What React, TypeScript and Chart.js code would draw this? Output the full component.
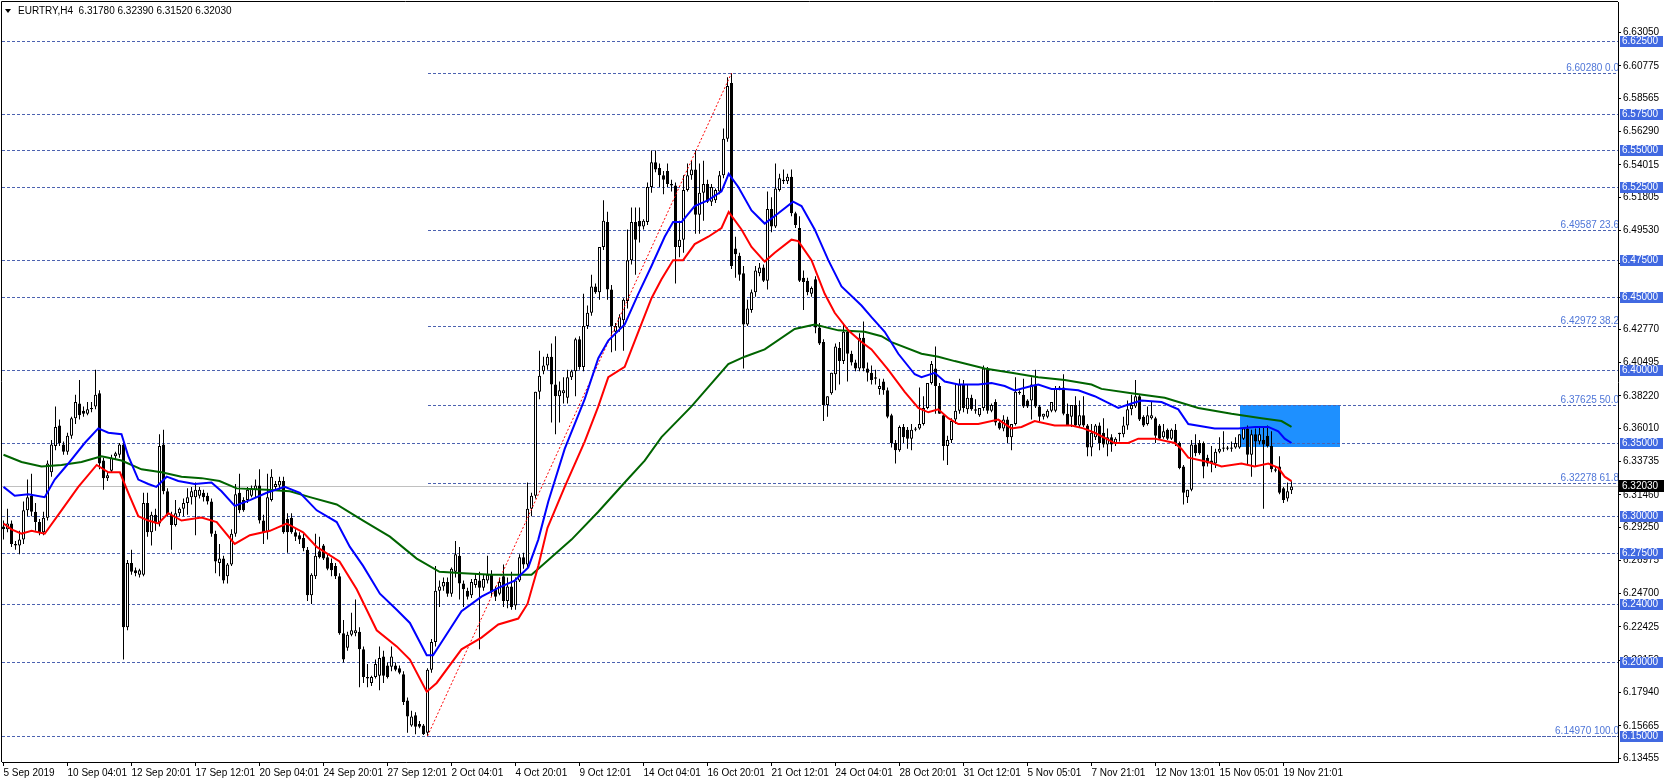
import React, { useEffect, useRef } from "react";
import { Chart, registerables } from "chart.js";

Chart.register(...registerables);

// ---------- DATA ----------
const symbolTitle = "EURTRY,H4  6.31780 6.32390 6.31520 6.32030";

const opens = [
  6.293,6.291,6.295,6.281,6.280,6.284,6.304,6.314,6.303,6.296,
  6.289,6.299,6.330,6.348,6.362,6.349,6.344,6.355,6.367,6.377,
  6.372,6.370,6.373,6.375,6.384,6.338,6.326,6.331,6.341,6.342,
  6.349,6.224,6.268,6.263,6.260,6.260,6.309,6.289,6.301,6.295,
  6.349,6.317,6.301,6.294,6.302,6.305,6.309,6.313,6.313,6.314,
  6.316,6.314,6.310,6.288,6.268,6.271,6.259,6.267,6.288,6.316,
  6.311,6.311,6.314,6.318,6.321,6.297,6.289,6.311,6.320,6.321,
  6.324,6.298,6.299,6.289,6.287,6.285,6.277,6.246,6.259,6.276,
  6.280,6.272,6.268,6.266,6.259,6.220,6.210,6.219,6.220,6.221,
  6.209,6.189,6.186,6.190,6.191,6.204,6.198,6.197,6.198,6.196,
  6.192,6.174,6.157,6.164,6.158,6.157,6.152,6.195,6.214,6.249,
  6.252,6.255,6.247,6.262,6.273,6.254,6.249,6.246,6.253,6.256,
  6.251,6.256,6.260,6.250,6.247,6.259,6.242,6.252,6.239,6.256,
  6.272,6.267,6.305,6.314,6.385,6.399,6.403,6.409,6.390,6.382,
  6.384,6.381,6.395,6.399,6.421,6.402,6.430,6.439,6.457,6.453,
  6.484,6.501,6.455,6.426,6.429,6.434,6.447,6.475,6.501,6.502,
  6.498,6.501,6.525,6.542,6.538,6.533,6.536,6.527,6.526,6.484,
  6.489,6.523,6.533,6.537,6.506,6.521,6.527,6.515,6.516,6.522,
  6.533,6.558,6.596,6.483,6.478,6.466,6.431,6.441,6.453,6.466,
  6.470,6.461,6.510,6.498,6.523,6.530,6.529,6.532,6.507,6.497,
  6.463,6.461,6.452,6.462,6.429,6.419,6.376,6.384,6.397,6.415,
  6.406,6.426,6.411,6.405,6.401,6.422,6.401,6.398,6.395,6.387,
  6.392,6.386,6.369,6.350,6.345,6.361,6.359,6.353,6.359,6.360,
  6.363,6.374,6.391,6.401,6.389,6.369,6.348,6.352,6.366,6.372,
  6.390,6.373,6.381,6.373,6.369,6.374,6.401,6.372,6.378,6.364,
  6.360,6.366,6.354,6.363,6.384,6.383,6.379,6.379,6.390,6.375,
  6.368,6.368,6.372,6.372,6.387,6.388,6.370,6.368,6.376,6.362,
  6.369,6.362,6.347,6.354,6.362,6.357,6.349,6.354,6.350,6.356,
  6.356,6.362,6.373,6.375,6.382,6.368,6.363,6.367,6.367,6.362,
  6.354,6.359,6.353,6.359,6.350,6.334,6.313,6.318,6.349,6.350,
  6.350,6.340,6.338,6.336,6.344,6.346,6.346,6.346,6.347,6.347,
  6.353,6.360,6.342,6.356,6.351,6.352,6.355,6.348,6.332,6.334,
  6.319,6.312,6.3178,
];

const highs = [
  6.297,6.305,6.297,6.283,6.290,6.310,6.325,6.329,6.309,6.298,
  6.303,6.338,6.352,6.375,6.366,6.351,6.357,6.368,6.383,6.393,
  6.375,6.378,6.378,6.400,6.386,6.340,6.330,6.342,6.344,6.350,
  6.352,6.270,6.277,6.265,6.264,6.316,6.316,6.303,6.305,6.356,
  6.359,6.319,6.303,6.311,6.306,6.312,6.319,6.320,6.323,6.320,
  6.318,6.316,6.312,6.290,6.281,6.273,6.268,6.291,6.322,6.329,
  6.313,6.320,6.321,6.325,6.332,6.301,6.329,6.332,6.324,6.327,
  6.327,6.302,6.302,6.291,6.289,6.288,6.279,6.261,6.288,6.286,
  6.281,6.274,6.271,6.268,6.261,6.229,6.221,6.234,6.243,6.224,
  6.211,6.199,6.191,6.202,6.211,6.208,6.200,6.211,6.200,6.198,
  6.194,6.176,6.167,6.166,6.160,6.158,6.196,6.216,6.266,6.256,
  6.258,6.258,6.265,6.283,6.279,6.256,6.251,6.257,6.261,6.262,
  6.260,6.273,6.263,6.252,6.258,6.267,6.258,6.262,6.258,6.274,
  6.275,6.323,6.316,6.385,6.413,6.409,6.411,6.418,6.423,6.392,
  6.395,6.400,6.400,6.422,6.423,6.452,6.444,6.465,6.459,6.484,
  6.516,6.508,6.458,6.432,6.438,6.449,6.496,6.511,6.511,6.511,
  6.503,6.528,6.550,6.550,6.541,6.536,6.541,6.530,6.528,6.502,
  6.533,6.541,6.543,6.550,6.541,6.543,6.530,6.527,6.524,6.536,
  6.565,6.600,6.6028,6.491,6.480,6.471,6.448,6.455,6.471,6.473,
  6.472,6.522,6.518,6.541,6.534,6.537,6.534,6.537,6.508,6.505,
  6.468,6.463,6.457,6.464,6.432,6.421,6.382,6.398,6.418,6.419,
  6.432,6.429,6.413,6.407,6.425,6.433,6.405,6.403,6.400,6.394,
  6.394,6.388,6.370,6.352,6.362,6.363,6.361,6.363,6.361,6.388,
  6.382,6.391,6.406,6.416,6.391,6.370,6.355,6.367,6.391,6.394,
  6.393,6.390,6.383,6.380,6.374,6.403,6.402,6.377,6.380,6.365,
  6.369,6.368,6.363,6.395,6.386,6.394,6.380,6.395,6.400,6.376,
  6.370,6.373,6.378,6.389,6.389,6.397,6.377,6.376,6.382,6.379,
  6.382,6.363,6.363,6.363,6.364,6.367,6.360,6.356,6.354,6.357,
  6.368,6.379,6.383,6.393,6.383,6.369,6.375,6.378,6.368,6.363,
  6.363,6.360,6.360,6.363,6.351,6.335,6.318,6.352,6.356,6.352,
  6.351,6.342,6.348,6.346,6.354,6.358,6.348,6.351,6.354,6.356,
  6.361,6.362,6.359,6.360,6.361,6.361,6.362,6.358,6.334,6.341,
  6.320,6.323,6.3239,
];

const lows = [
  6.284,6.289,6.279,6.277,6.274,6.281,6.300,6.300,6.290,6.287,
  6.287,6.297,6.327,6.345,6.348,6.342,6.342,6.353,6.363,6.366,
  6.368,6.369,6.371,6.373,6.332,6.318,6.324,6.330,6.339,6.340,
  6.202,6.222,6.260,6.259,6.258,6.259,6.286,6.280,6.290,6.293,
  6.315,6.300,6.277,6.293,6.300,6.300,6.301,6.308,6.287,6.312,
  6.310,6.308,6.286,6.261,6.259,6.254,6.254,6.266,6.286,6.302,
  6.303,6.309,6.313,6.313,6.295,6.281,6.284,6.310,6.318,6.318,
  6.288,6.275,6.288,6.283,6.281,6.276,6.242,6.240,6.257,6.271,
  6.270,6.263,6.259,6.257,6.219,6.200,6.208,6.218,6.218,6.183,
  6.186,6.183,6.184,6.189,6.181,6.186,6.189,6.194,6.194,6.192,
  6.171,6.152,6.156,6.151,6.155,6.1505,6.1497,6.193,6.211,6.238,
  6.249,6.245,6.245,6.258,6.243,6.238,6.243,6.244,6.251,6.209,
  6.249,6.254,6.245,6.242,6.246,6.238,6.237,6.236,6.236,6.255,
  6.264,6.265,6.300,6.312,6.380,6.397,6.400,6.364,6.356,6.364,
  6.377,6.377,6.393,6.382,6.400,6.399,6.428,6.437,6.452,6.448,
  6.482,6.448,6.412,6.413,6.426,6.413,6.442,6.472,6.465,6.487,
  6.496,6.499,6.521,6.535,6.525,6.520,6.525,6.522,6.459,6.477,
  6.480,6.522,6.530,6.493,6.493,6.502,6.514,6.512,6.514,6.520,
  6.531,6.556,6.469,6.463,6.461,6.401,6.430,6.439,6.450,6.464,
  6.460,6.455,6.494,6.497,6.522,6.527,6.527,6.505,6.497,6.460,
  6.441,6.451,6.450,6.425,6.417,6.365,6.368,6.383,6.386,6.390,
  6.404,6.392,6.403,6.399,6.399,6.399,6.392,6.390,6.390,6.383,
  6.383,6.367,6.347,6.336,6.344,6.350,6.346,6.345,6.358,6.359,
  6.362,6.373,6.390,6.370,6.370,6.338,6.335,6.350,6.363,6.370,
  6.371,6.370,6.372,6.370,6.368,6.372,6.370,6.371,6.362,6.359,
  6.358,6.350,6.345,6.362,6.383,6.374,6.374,6.366,6.374,6.365,
  6.366,6.367,6.371,6.371,6.386,6.369,6.362,6.361,6.361,6.361,
  6.361,6.341,6.341,6.352,6.345,6.347,6.341,6.344,6.348,6.351,
  6.354,6.359,6.369,6.374,6.365,6.361,6.362,6.366,6.350,6.352,
  6.353,6.352,6.352,6.348,6.332,6.308,6.309,6.317,6.341,6.342,
  6.326,6.334,6.330,6.333,6.343,6.344,6.345,6.344,6.346,6.346,
  6.352,6.335,6.327,6.334,6.349,6.305,6.347,6.330,6.330,6.315,
  6.309,6.310,6.3152,
];

const closes = [
  6.291,6.295,6.281,6.280,6.284,6.304,6.313,6.303,6.296,6.289,
  6.299,6.336,6.349,6.361,6.350,6.344,6.355,6.367,6.378,6.369,
  6.370,6.373,6.374,6.383,6.336,6.326,6.328,6.340,6.343,6.349,
  6.224,6.268,6.262,6.261,6.263,6.309,6.289,6.301,6.295,6.348,
  6.317,6.301,6.294,6.302,6.305,6.309,6.313,6.317,6.318,6.318,
  6.313,6.310,6.288,6.269,6.271,6.256,6.267,6.288,6.315,6.304,
  6.304,6.318,6.319,6.321,6.297,6.289,6.313,6.327,6.322,6.324,
  6.289,6.289,6.289,6.286,6.284,6.278,6.246,6.260,6.273,6.272,
  6.271,6.264,6.263,6.259,6.220,6.202,6.219,6.222,6.222,6.209,
  6.190,6.190,6.190,6.199,6.203,6.191,6.190,6.204,6.195,6.193,
  6.173,6.163,6.163,6.156,6.156,6.151,6.195,6.214,6.249,6.252,
  6.255,6.247,6.264,6.274,6.254,6.250,6.245,6.255,6.257,6.251,
  6.257,6.260,6.248,6.245,6.255,6.242,6.252,6.238,6.256,6.272,
  6.267,6.305,6.314,6.385,6.396,6.403,6.409,6.390,6.382,6.386,
  6.386,6.395,6.399,6.421,6.402,6.430,6.439,6.457,6.453,6.484,
  6.502,6.455,6.430,6.430,6.436,6.448,6.475,6.501,6.489,6.498,
  6.502,6.525,6.542,6.537,6.533,6.530,6.527,6.526,6.484,6.489,
  6.523,6.533,6.537,6.506,6.521,6.527,6.515,6.525,6.523,6.533,
  6.558,6.594,6.471,6.479,6.465,6.431,6.442,6.453,6.468,6.470,
  6.461,6.510,6.498,6.524,6.531,6.529,6.532,6.507,6.499,6.461,
  6.460,6.453,6.456,6.429,6.418,6.376,6.382,6.398,6.416,6.406,
  6.426,6.411,6.405,6.401,6.422,6.401,6.398,6.393,6.394,6.389,
  6.386,6.368,6.350,6.345,6.361,6.354,6.353,6.359,6.360,6.363,
  6.374,6.391,6.404,6.389,6.370,6.348,6.352,6.365,6.372,6.390,
  6.374,6.381,6.373,6.372,6.374,6.401,6.372,6.376,6.364,6.360,
  6.366,6.354,6.363,6.385,6.385,6.375,6.375,6.390,6.375,6.368,
  6.370,6.372,6.378,6.387,6.388,6.370,6.362,6.376,6.362,6.369,
  6.362,6.347,6.357,6.362,6.350,6.349,6.354,6.349,6.353,6.357,
  6.362,6.373,6.376,6.382,6.366,6.362,6.369,6.369,6.355,6.353,
  6.358,6.353,6.359,6.350,6.333,6.316,6.318,6.349,6.343,6.343,
  6.334,6.336,6.336,6.344,6.346,6.347,6.347,6.347,6.350,6.356,
  6.360,6.342,6.356,6.351,6.356,6.349,6.348,6.332,6.331,6.316,
  6.311,6.317,6.3203,
];

// moving averages: [bar position, value] samples
const redMa = [
  [0,6.295],[2,6.291],[4.5,6.288],[7,6.290],[10.3,6.288],[14.5,6.304],[18.7,6.320],[23.3,6.335],
  [26.2,6.330],[29.1,6.330],[31.2,6.316],[33.7,6.300],[36.2,6.297],[38.7,6.295],[41.2,6.302],
  [44.5,6.297],[49.5,6.299],[53.3,6.296],[57.8,6.281],[61.6,6.287],[66.6,6.290],[70.8,6.295],
  [74.9,6.289],[78.3,6.279],[84,6.269],[88.3,6.250],[93.3,6.222],[98.3,6.211],[101.6,6.202],
  [105.8,6.180],[108.3,6.186],[114.5,6.209],[119.5,6.217],[123.7,6.226],[128.7,6.230],[131,6.240],
  [133.7,6.266],[136,6.292],[140.3,6.320],[145.3,6.351],[148.7,6.375],[151.2,6.395],[155.3,6.402],
  [158.7,6.426],[162,6.449],[164.5,6.462],[167.4,6.475],[169.9,6.475],[172.8,6.486],[176.2,6.491],
  [179.5,6.497],[181.3,6.508],[184.5,6.496],[187,6.484],[190.3,6.474],[192.8,6.480],[197,6.489],
  [198.7,6.488],[202,6.475],[205.3,6.452],[207.8,6.439],[211.2,6.427],[214.5,6.419],[217,6.414],
  [221.2,6.400],[225.3,6.385],[228.7,6.374],[231.2,6.371],[233.7,6.373],[236.2,6.367],[238.7,6.363],
  [243.7,6.363],[248.7,6.366],[252,6.360],[254.5,6.361],[257.8,6.365],[262.8,6.362],[267,6.362],
  [270,6.360],[272.8,6.357],[277.8,6.350],[281.2,6.350],[283.7,6.353],[287.8,6.353],[292.8,6.350],
  [294.5,6.346],[296.2,6.340],[301.2,6.337],[304.5,6.334],[309.5,6.336],[312.8,6.334],[316.2,6.336],
  [318.7,6.333],[320.3,6.327],[322,6.324],
];
const blueMa = [
  [0,6.320],[2.8,6.314],[6.2,6.315],[10.3,6.313],[12.8,6.325],[16.2,6.336],[20.3,6.350],[23.7,6.360],
  [26.2,6.357],[29.5,6.356],[31.2,6.341],[33.7,6.325],[36.2,6.322],[38.2,6.320],[40.8,6.327],
  [43.7,6.324],[47.8,6.322],[52,6.323],[54.5,6.317],[57.8,6.307],[61.6,6.311],[65.8,6.316],
  [70.3,6.320],[74.1,6.316],[78.3,6.304],[83.3,6.296],[86.6,6.279],[89.9,6.266],[94.1,6.247],
  [98.3,6.236],[101.6,6.227],[105.8,6.205],[107.4,6.205],[109.3,6.213],[114.5,6.235],[119.5,6.245],
  [123.7,6.251],[127.8,6.256],[131.2,6.265],[133.7,6.284],[136.2,6.310],[140.3,6.346],[145.3,6.380],
  [148.7,6.408],[151.2,6.420],[155.3,6.431],[158.7,6.452],[162,6.471],[165.3,6.491],[167.4,6.501],
  [169.5,6.501],[172.8,6.512],[176.2,6.516],[179.5,6.522],[181.3,6.534],[183.7,6.525],[187,6.509],
  [190.3,6.500],[193.7,6.507],[197.4,6.515],[199.5,6.512],[202.8,6.496],[206.2,6.475],[209.5,6.457],
  [214.5,6.444],[217,6.436],[220.3,6.426],[223.7,6.411],[227.8,6.397],[229.5,6.395],[232.8,6.398],
  [235.3,6.392],[238.7,6.390],[243.7,6.390],[247,6.391],[250.3,6.389],[252.8,6.386],[257,6.389],
  [258.7,6.390],[262,6.387],[265.3,6.387],[268.7,6.386],[272.8,6.382],[278.7,6.374],[282,6.377],
  [284.5,6.379],[289.5,6.378],[293.7,6.373],[296.2,6.363],[302.8,6.360],[308.7,6.360],[312.8,6.361],
  [316.2,6.361],[318.7,6.358],[320.3,6.353],[322,6.350],
];
const greenMa = [
  [0,6.342],[4.5,6.337],[9.5,6.334],[14.5,6.335],[19.5,6.337],[24.5,6.341],[29.5,6.338],[34.5,6.332],
  [39.5,6.330],[44.5,6.327],[49.5,6.326],[54,6.324],[58.3,6.319],[65.8,6.318],[71.6,6.317],
  [76.6,6.313],[83.3,6.308],[89.9,6.297],[96.6,6.286],[103.3,6.271],[109,6.262],[115,6.261],
  [122,6.260],[128,6.260],[132,6.260],[134.5,6.266],[142,6.284],[148.7,6.303],[155.3,6.323],
  [160.3,6.338],[164.5,6.354],[172,6.375],[181.2,6.404],[185.3,6.409],[190.3,6.414],[197.8,6.428],
  [202.8,6.431],[208.7,6.427],[215.3,6.426],[219.5,6.423],[222,6.419],[229.5,6.411],[233.7,6.409],
  [237.8,6.406],[245.3,6.401],[252,6.398],[258.7,6.395],[265.3,6.393],[272,6.390],[274.5,6.387],
  [282,6.384],[290.3,6.381],[298.7,6.374],[307,6.370],[314.5,6.367],[319.5,6.365],[322,6.361],
];

const dateTickBars = [0,16,32,48,64,80,96,112,128,144,160,176,192,208,224,240,256,272,288,304,320];
const dateTickLabels = [
  "5 Sep 2019","10 Sep 04:01","12 Sep 20:01","17 Sep 12:01","20 Sep 04:01","24 Sep 20:01",
  "27 Sep 12:01","2 Oct 04:01","4 Oct 20:01","9 Oct 12:01","14 Oct 04:01","16 Oct 20:01",
  "21 Oct 12:01","24 Oct 04:01","28 Oct 20:01","31 Oct 12:01","5 Nov 05:01","7 Nov 21:01",
  "12 Nov 13:01","15 Nov 05:01","19 Nov 21:01",
];
const priceTicks = [
  6.63050,6.60775,6.58565,6.56290,6.54015,6.51805,6.49530,6.47255,6.44980,6.42770,6.40495,6.38220,
  6.36010,6.33735,6.31460,6.29250,6.26975,6.24700,6.22425,6.20150,6.17940,6.15665,6.13455,
];
const levelPrices = [6.625,6.575,6.55,6.525,6.475,6.45,6.40,6.35,6.30,6.275,6.24,6.20,6.15];
const fibPrices = [6.60280,6.49587,6.42972,6.37625,6.32278,6.14970];
const fibTags = ["0.0","23.6","38.2","50.0","61.8","100.0"];
const fibStartBar = 106;
const trendBars = [106, 182];
const trendPrices = [6.1497, 6.6028];
const zoneBars = [309, 334];
const zonePrices = [6.3475, 6.37625];
const lastPrice = 6.3203;

// ---------- layout constants ----------
const W = 1664, H = 783;
const X_MIN = -0.375, X_MAX = 403.625;
const Y_MIN = 6.13197, Y_MAX = 6.65145;
const FONT_FAMILY = '"Liberation Sans", Arial, sans-serif';
const FONT_SIZE = 10;
const FONT = `${FONT_SIZE}px ${FONT_FAMILY}`;
const DASH_BLUE = "#4c62b0";
const LABEL_BLUE = "#4169e1";
const FIB_TEXT = "#4f76d8";

const mt4Plugin = {
  id: "mt4decor",
  beforeDatasetsDraw(chart: any) {
    const { ctx, chartArea: ca, scales } = chart;
    const x = scales.x, y = scales.y;
    ctx.save();
    ctx.beginPath();
    ctx.rect(ca.left, ca.top, ca.right - ca.left, ca.bottom - ca.top);
    ctx.clip();
    // zone rectangle
    const zx0 = Math.round(x.getPixelForValue(zoneBars[0]));
    const zx1 = Math.round(x.getPixelForValue(zoneBars[1]));
    const zy0 = Math.round(y.getPixelForValue(zonePrices[1]));
    const zy1 = Math.round(y.getPixelForValue(zonePrices[0]));
    ctx.fillStyle = "#1e90ff";
    ctx.fillRect(zx0, zy0, zx1 - zx0, zy1 - zy0);
    // current price line
    ctx.strokeStyle = "#c0c0c0";
    ctx.lineWidth = 1;
    const lp = Math.round(y.getPixelForValue(lastPrice)) + 0.5;
    ctx.beginPath();
    ctx.moveTo(ca.left, lp);
    ctx.lineTo(ca.right, lp);
    ctx.stroke();
    // dashed horizontal levels
    ctx.setLineDash([3, 2]);
    ctx.strokeStyle = DASH_BLUE;
    for (const p of levelPrices) {
      const py = Math.round(y.getPixelForValue(p)) + 0.5;
      ctx.beginPath();
      ctx.moveTo(ca.left, py);
      ctx.lineTo(ca.right, py);
      ctx.stroke();
    }
    const fx = Math.round(x.getPixelForValue(fibStartBar));
    for (const p of fibPrices) {
      const py = Math.round(y.getPixelForValue(p)) + 0.5;
      ctx.beginPath();
      ctx.moveTo(fx, py);
      ctx.lineTo(ca.right, py);
      ctx.stroke();
    }
    ctx.restore();
  },
  afterDraw(chart: any) {
    const { ctx, chartArea: ca, scales } = chart;
    const y = scales.y;
    ctx.save();
    // frame (left and top)
    ctx.strokeStyle = "#000";
    ctx.lineWidth = 1;
    ctx.beginPath();
    ctx.moveTo(ca.left - 0.5, ca.bottom);
    ctx.lineTo(ca.left - 0.5, ca.top - 0.5);
    ctx.lineTo(ca.right, ca.top - 0.5);
    ctx.stroke();
    ctx.font = FONT;
    // fib labels
    ctx.save();
    ctx.beginPath();
    ctx.rect(ca.left, ca.top, ca.right - ca.left, ca.bottom - ca.top);
    ctx.clip();
    ctx.fillStyle = FIB_TEXT;
    ctx.textAlign = "right";
    ctx.textBaseline = "bottom";
    fibPrices.forEach((p, k) => {
      const py = Math.round(y.getPixelForValue(p));
      ctx.fillText(`${p.toFixed(5)} ${fibTags[k]}`, ca.right + 1, py);
    });
    ctx.restore();
    // level price boxes on the axis
    ctx.textAlign = "left";
    ctx.textBaseline = "middle";
    for (const p of levelPrices) {
      const py = Math.round(y.getPixelForValue(p));
      ctx.fillStyle = LABEL_BLUE;
      ctx.fillRect(ca.right + 2, py - 5, 43, 11);
      ctx.fillStyle = "#ffffff";
      ctx.fillText(p.toFixed(5), ca.right + 4, py + 0.5);
    }
    // last price box
    const lpY = Math.round(y.getPixelForValue(lastPrice));
    ctx.fillStyle = "#000";
    ctx.fillRect(ca.right + 1, lpY - 6, 45, 12);
    ctx.fillStyle = "#fff";
    ctx.fillText(lastPrice.toFixed(5), ca.right + 4, lpY + 0.5);
    // title
    ctx.fillStyle = "#000";
    ctx.beginPath();
    ctx.moveTo(5, 9);
    ctx.lineTo(11, 9);
    ctx.lineTo(8, 13);
    ctx.closePath();
    ctx.fill();
    ctx.fillText(symbolTitle, 18, 11);
    ctx.restore();
  },
};

export default function App() {
  const ref = useRef<HTMLCanvasElement | null>(null);

  useEffect(() => {
    document.body.style.margin = "0";
    document.body.style.overflow = "hidden";
    const canvas = ref.current;
    if (!canvas) return;

    const idx = opens.map((_, i) => i);
    const wickData = idx.map((i) => ({ x: i, y: [lows[i], highs[i]] }));
    const bodyData = idx.map((i) => ({
      x: i,
      y: [Math.min(opens[i], closes[i]), Math.max(opens[i], closes[i])],
    }));
    const bodyFill = idx.map((i) => (closes[i] >= opens[i] ? "#ffffff" : "#000000"));
    const toPts = (arr: number[][]) => arr.map(([bx, v]) => ({ x: bx, y: v }));

    const chart = new Chart(canvas, {
      type: "bar",
      data: {
        datasets: [
          {
            type: "bar",
            data: wickData as any,
            backgroundColor: "#000000",
            borderWidth: 0,
            barThickness: 1,
            grouped: false,
            minBarLength: 1,
            inflateAmount: 0,
            order: 10,
          } as any,
          {
            type: "bar",
            data: bodyData as any,
            backgroundColor: bodyFill,
            borderColor: "#000000",
            borderWidth: 1,
            borderSkipped: false,
            barThickness: 3,
            grouped: false,
            minBarLength: 1,
            inflateAmount: 0,
            order: 9,
          } as any,
          {
            type: "line",
            data: trendBars.map((b, k) => ({ x: b, y: trendPrices[k] })),
            borderColor: "#ff0000",
            borderWidth: 1,
            borderDash: [2, 2],
            pointRadius: 0,
            fill: false,
            order: 5,
          } as any,
          {
            type: "line",
            data: toPts(greenMa),
            borderColor: "#006400",
            borderWidth: 2,
            pointRadius: 0,
            fill: false,
            tension: 0,
            order: 3,
          } as any,
          {
            type: "line",
            data: toPts(blueMa),
            borderColor: "#0000ff",
            borderWidth: 2,
            pointRadius: 0,
            fill: false,
            tension: 0,
            order: 2,
          } as any,
          {
            type: "line",
            data: toPts(redMa),
            borderColor: "#ff0000",
            borderWidth: 2,
            pointRadius: 0,
            fill: false,
            tension: 0,
            order: 1,
          } as any,
        ],
      },
      options: {
        animation: false,
        responsive: false,
        maintainAspectRatio: false,
        devicePixelRatio: 1,
        events: [],
        layout: { padding: { top: 2, left: 2, right: 0, bottom: 0 } },
        plugins: {
          legend: { display: false },
          tooltip: { enabled: false },
          title: { display: false },
        },
        scales: {
          x: {
            type: "linear",
            min: X_MIN,
            max: X_MAX,
            offset: false,
            bounds: "data",
            afterBuildTicks: (scale: any) => {
              scale.ticks = dateTickBars.map((v) => ({ value: v }));
            },
            afterFit: (scale: any) => {
              scale.height = 21;
              scale.paddingLeft = 0;
              scale.paddingRight = 0;
            },
            ticks: {
              autoSkip: false,
              maxRotation: 0,
              minRotation: 0,
              align: "start",
              padding: 1,
              color: "#000",
              font: { family: FONT_FAMILY, size: FONT_SIZE },
              callback: (_v: any, i: number) => dateTickLabels[i],
            },
            grid: {
              drawOnChartArea: false,
              drawTicks: true,
              tickLength: 4,
              tickColor: "#000",
              offset: false,
            },
            border: { display: true, color: "#000", width: 1 },
          } as any,
          y: {
            type: "linear",
            position: "right",
            min: Y_MIN,
            max: Y_MAX,
            bounds: "data",
            afterBuildTicks: (scale: any) => {
              scale.ticks = priceTicks.map((v) => ({ value: v }));
            },
            afterFit: (scale: any) => {
              scale.width = 46;
              scale.paddingTop = 0;
              scale.paddingBottom = 0;
            },
            ticks: {
              padding: 2,
              color: "#000",
              font: { family: FONT_FAMILY, size: FONT_SIZE },
              callback: (v: any) => Number(v).toFixed(5),
            },
            grid: {
              drawOnChartArea: false,
              drawTicks: true,
              tickLength: 3,
              tickColor: "#000",
            },
            border: { display: true, color: "#000", width: 1 },
          } as any,
        },
      },
      plugins: [mt4Plugin as any],
    } as any);

    return () => chart.destroy();
  }, []);

  return (
    <div style={{ width: W, height: H, position: "relative", background: "#fff" }}>
      <canvas ref={ref} width={W} height={H} style={{ display: "block", width: W, height: H }} />
    </div>
  );
}
